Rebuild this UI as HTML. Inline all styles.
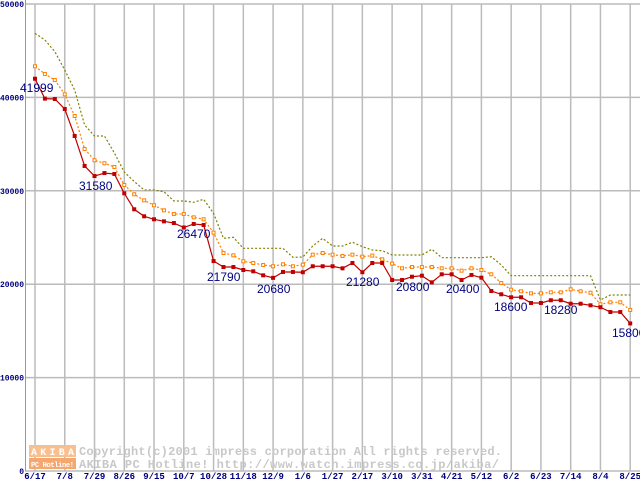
<!DOCTYPE html>
<html><head><meta charset="utf-8"><style>
body{margin:0;background:#fff;width:640px;height:480px;overflow:hidden}
svg{display:block}
text{font-family:"Liberation Mono","DejaVu Sans Mono",monospace}
</style></head><body>
<svg id="chart" width="640" height="480"></svg>
<script>
const xLabels=["6/17","7/8","7/29","8/26","9/15","10/7","10/28","11/18","12/9","1/6","1/27","2/17","3/10","3/31","4/21","5/12","6/2","6/23","7/14","8/4","8/25"];
const yTicks=[0,10000,20000,30000,40000,50000];
const minPrice=[41999,39870,39830,38760,35870,32660,31580,31900,31800,29730,28020,27270,26950,26730,26550,26070,26450,26340,22480,21840,21840,21520,21380,20950,20680,21310,21310,21280,21920,21920,21920,21700,22270,21280,22270,22270,20450,20450,20800,20910,20200,21060,21060,20450,20990,20700,19270,18920,18600,18600,17990,17990,18280,18280,17910,17910,17740,17530,17020,17020,15800];
const avgPrice=[43330,42510,41860,40330,38010,34480,33270,32950,32550,30620,29630,28980,28450,27910,27520,27520,27160,26950,25520,23340,23090,22450,22270,22060,21920,22130,21920,22090,23160,23340,23160,23020,23160,22950,23060,22670,22200,21700,21840,21840,21840,21700,21700,21450,21700,21520,21060,20130,19410,19240,19020,19020,19130,19130,19450,19240,19090,17850,18060,18060,17240];
const maxPrice=[46860,46150,44900,42930,40790,37050,35870,35870,34050,32010,30990,30090,30090,29900,28910,28910,28770,29090,27590,24910,25020,23840,23840,23840,23840,23840,22880,22910,24090,24910,24090,24090,24490,24020,23660,23590,23130,23130,23130,23130,23740,22840,22840,22840,22840,22840,22940,22060,20910,20910,20910,20910,20910,20910,20910,20910,20910,18310,18840,18840,18840];
const annIdx=[0,6,15,19,24,33,38,42,48,52,60];
const annVal=["41999","31580","26470","21790","20680","21280","20800","20400","18600","18280","15800"];
const annPos=[[20,92],[79,190],[177,238],[207,281],[257,293],[346,286],[396,291],[446,293],[494,311],[544,314],[612,337]];

const svg=document.getElementById('chart');const NS='http://www.w3.org/2000/svg';
const X0=35,DX=9.92,Y0=471,SY=93.4/10000;
const xs=i=>X0+i*DX, ys=v=>Y0-v*SY;
function mk(t,a,p){const e=document.createElementNS(NS,t);for(const k in a)e.setAttribute(k,a[k]);(p||svg).appendChild(e);return e;}
yTicks.forEach((v,i)=>{
 const l=mk('line',{x1:25,x2:640,y1:ys(v),y2:ys(v),stroke:'#bbb','stroke-width':1.5});
 
 
 const t=mk('text',{x:24,y:ys(v)+3,'text-anchor':'end','font-size':8,'font-weight':'bold',fill:'#000080'});
 t.textContent=v;
 
 
});
xLabels.forEach((s,i)=>{
 const x=X0+i*3*DX;
 const l=mk('line',{x1:x,x2:x,y1:4,y2:471,stroke:'#bbb','stroke-width':1.5});
 
 
 const t=mk('text',{x:x,y:479,'text-anchor':'middle','font-size':9,'font-weight':'bold',fill:'#000080'});
 t.textContent=s;
 
 
});
const ax=mk('line',{x1:25.5,x2:25.5,y1:0,y2:471,stroke:'#999','stroke-width':1});


const g=mk('g',{});


mk('rect',{x:29,y:445,width:47,height:12,fill:'#f8c090'},g);
mk('rect',{x:29,y:458,width:47,height:11,fill:'#f4a870'},g);
const w1=mk('text',{x:31,y:455,'font-size':10,'font-weight':'bold',fill:'#fff',textLength:43},g);w1.textContent='AKIBA';
const w2=mk('text',{x:31,y:467,'font-size':7,'font-weight':'bold',fill:'#fff',textLength:43},g);w2.textContent='PC Hotline!';
const w3=mk('text',{x:79,y:455,'font-size':12,'font-weight':'bold',fill:'#c8c8c8',textLength:423},g);w3.textContent='Copyright(c)2001 impress corporation All rights reserved.';
const w4=mk('text',{x:79,y:468,'font-size':12,'font-weight':'bold',fill:'#c8c8c8',textLength:420},g);w4.textContent='AKIBA PC Hotline!  http://www.watch.impress.co.jp/akiba/';
function line(arr,color,dash,name){
 const p=mk('polyline',{points:arr.map((v,i)=>xs(i)+','+ys(v)).join(' '),fill:'none',stroke:color,'stroke-width':1.2,'stroke-dasharray':dash});
 
 
}
line(maxPrice,'#808000','2 2','max-price-line');
line(avgPrice,'#ff8000','2 2','avg-price-line');
avgPrice.forEach((v,i)=>{
 const r=mk('rect',{x:xs(i)-1.5,y:ys(v)-1.5,width:3,height:3,fill:'#fff',stroke:'#ff8000','stroke-width':1});
 
 
});
line(minPrice,'#c00000','none','min-price-line');
minPrice.forEach((v,i)=>{
 const r=mk('rect',{x:xs(i)-2,y:ys(v)-2,width:4,height:4,fill:'#c00000'});
 
 
});
annVal.forEach((s,k)=>{
 const t=mk('text',{x:annPos[k][0],y:annPos[k][1],'font-size':12,fill:'#000080'});
 t.setAttribute('style','font-family:"Liberation Sans",sans-serif');
 t.textContent=s;
 
 
});
</script>
</body></html>
